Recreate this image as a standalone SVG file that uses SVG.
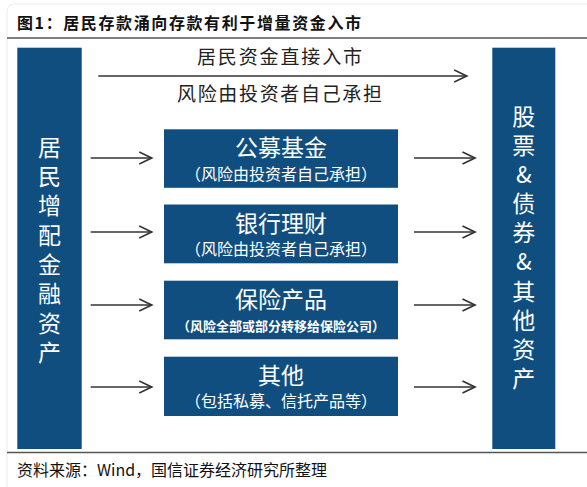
<svg xmlns="http://www.w3.org/2000/svg" width="587" height="487" viewBox="0 0 587 487">
<defs>
<style>
text{font-family:"Noto Sans CJK SC","Noto Sans",sans-serif;}
.bar{fill:#0f4e7e;}
.box{fill:#0f4e7e;}
.vt{fill:#ffffff;font-size:23px;writing-mode:vertical-rl;text-orientation:upright;}
.bt{fill:#ffffff;font-size:23px;text-anchor:middle;}
.bs{fill:#ffffff;font-size:16px;text-anchor:middle;}
.bs2{fill:#ffffff;font-size:13px;font-weight:bold;text-anchor:middle;}
.top{fill:#222;font-size:19px;text-anchor:middle;}
.conn{stroke:#333;stroke-width:1.7;fill:none;marker-end:url(#ah);}
.rule{stroke:#555;stroke-width:1.5;}
</style>
<marker id="ah" markerUnits="userSpaceOnUse" markerWidth="16" markerHeight="16" refX="13" refY="7" orient="auto">
<path d="M0.5,1 L13,7 L0.5,13" fill="none" stroke="#333" stroke-width="1.7"/>
</marker>
</defs>
<rect width="587" height="487" fill="#ffffff"/>
<path d="M7,487 L7,12 Q7,4 15,4 L587,4" fill="none" stroke="#ececec" stroke-width="1"/>
<text x="17" y="29" font-size="16" font-weight="bold" fill="#111" textLength="344" lengthAdjust="spacing">图1：居民存款涌向存款有利于增量资金入市</text>
<line class="rule" x1="7" y1="38" x2="587" y2="38"/>
<line class="rule" x1="7" y1="452.5" x2="587" y2="452.5"/>
<text x="17" y="475.5" font-size="16" fill="#111" textLength="310" lengthAdjust="spacing">资料来源：Wind，国信证券经济研究所整理</text>

<g id="left">
<rect class="bar" x="17.3" y="47.7" width="64.4" height="401.3"/>
<text class="vt" x="49.5" y="135.5" style="letter-spacing:6.3px">居民增配金融资产</text>
</g>

<g id="right">
<rect class="bar" x="492.3" y="47.7" width="63" height="401.3"/>
<text class="vt" x="523.8" y="105" style="letter-spacing:6.05px">股票&amp;债券&amp;其他资产</text>
</g>

<g id="direct">
<text class="top" x="279.5" y="64.4" textLength="165" lengthAdjust="spacing">居民资金直接入市</text>
<text class="top" x="279.5" y="101.4" textLength="205" lengthAdjust="spacing">风险由投资者自己承担</text>
</g>

<g id="fund">
<rect class="box" x="164" y="129.3" width="234" height="58.5"/>
<text class="bt" x="281" y="156.3">公募基金</text>
<text class="bs" x="281" y="179.8">（风险由投资者自己承担）</text>
</g>
<g id="wealth">
<rect class="box" x="164" y="204.5" width="234" height="58.8"/>
<text class="bt" x="281" y="231.5">银行理财</text>
<text class="bs" x="281" y="255">（风险由投资者自己承担）</text>
</g>
<g id="insurance">
<rect class="box" x="164" y="280.7" width="234" height="58.6"/>
<text class="bt" x="281" y="307.7">保险产品</text>
<text class="bs2" x="281" y="331">（风险全部或部分转移给保险公司）</text>
</g>
<g id="other">
<rect class="box" x="164" y="356.7" width="234" height="59.3"/>
<text class="bt" x="281" y="383.7">其他</text>
<text class="bs" x="281" y="407.2">（包括私募、信托产品等）</text>
</g>

<g id="connectors">
<line class="conn" x1="98.3" y1="76" x2="466.7" y2="76"/>
<line class="conn" x1="90.7" y1="158" x2="151.7" y2="158"/>
<line class="conn" x1="90.7" y1="232" x2="151.7" y2="232"/>
<line class="conn" x1="90.7" y1="305" x2="151.7" y2="305"/>
<line class="conn" x1="90.7" y1="387" x2="151.7" y2="387"/>
<line class="conn" x1="414" y1="158" x2="475" y2="158"/>
<line class="conn" x1="414" y1="232" x2="475" y2="232"/>
<line class="conn" x1="414" y1="305" x2="475" y2="305"/>
<line class="conn" x1="414" y1="387" x2="475" y2="387"/>
</g>
</svg>
